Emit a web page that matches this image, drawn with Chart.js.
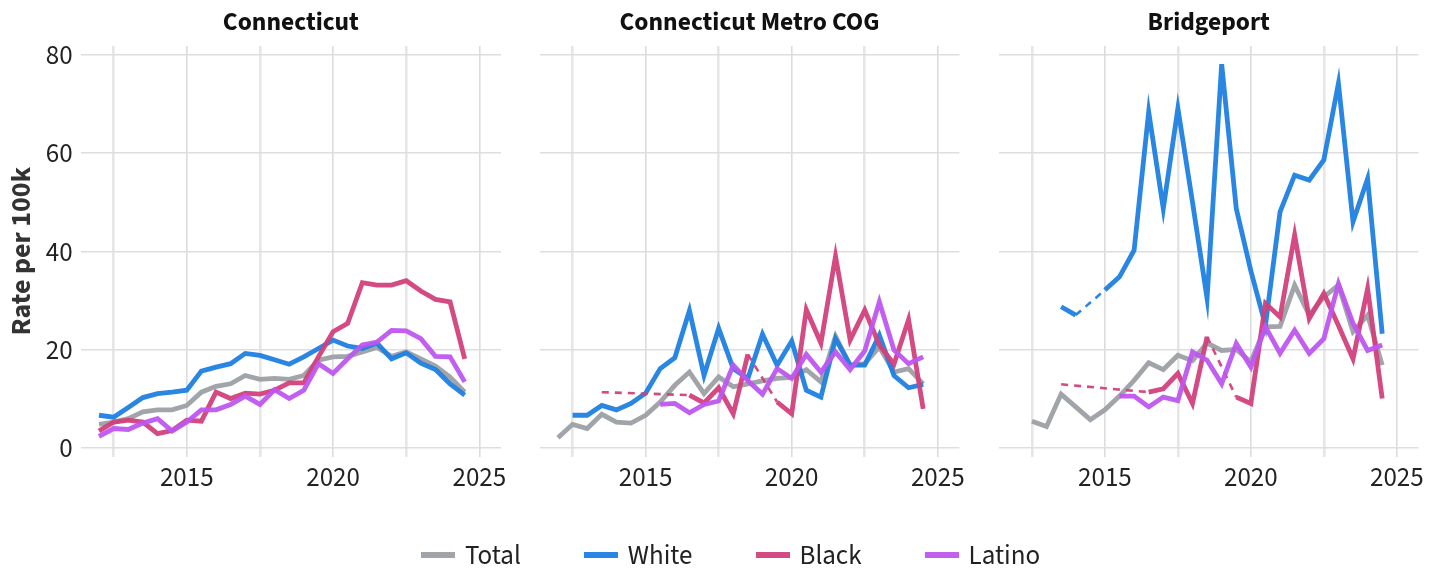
<!DOCTYPE html>
<html><head><meta charset="utf-8">
<script src="https://cdn.jsdelivr.net/npm/chart.js@4.4.0/dist/chart.umd.min.js"></script>
<style>
html,body{margin:0;padding:0;background:#fff;width:1441px;height:574px;overflow:hidden;}
canvas{position:absolute;left:0;top:0;}
#legend{position:absolute;left:0;width:1461px;top:535px;height:40px;display:flex;justify-content:center;align-items:center;gap:63px;font-family:"Source Sans 3","Source Sans Pro",Lato,sans-serif;font-size:27px;color:#222;}
.item{display:flex;align-items:center;gap:10px;}
.sw{width:34px;height:5.5px;display:inline-block;}
</style></head><body>
<canvas id="c0" width="1441" height="574"></canvas>
<canvas id="c1" width="1441" height="574"></canvas>
<canvas id="c2" width="1441" height="574"></canvas>
<div id="legend"></div>
<script>
const years = [2012, 2012.5, 2013, 2013.5, 2014, 2014.5, 2015, 2015.5, 2016, 2016.5, 2017, 2017.5, 2018, 2018.5, 2019, 2019.5, 2020, 2020.5, 2021, 2021.5, 2022, 2022.5, 2023, 2023.5, 2024, 2024.5];
const xTicks = [2012.5, 2015, 2017.5, 2020, 2022.5, 2025];
const xLabels = [2015, 2020, 2025];
const yTicks = [0, 20, 40, 60, 80];
const regions = ['Connecticut', 'Connecticut Metro COG', 'Bridgeport'];
const seriesNames = ['Total', 'White', 'Black', 'Latino'];
const seriesColors = ['rgba(156,160,165,0.95)', 'rgba(30,128,224,0.95)', 'rgba(210,64,124,0.95)', 'rgba(190,86,240,0.95)'];

const ctTotal  = [4.75, 5.2, 5.9, 7.3, 7.7, 7.7, 8.6, 11.3, 12.5, 13.0, 14.7, 13.9, 14.1, 13.9, 14.7, 17.8, 18.5, 18.6, 19.5, 20.4, 18.6, 19.5, 18.1, 16.6, 14.4, 11.3];
const ctWhite  = [6.6, 6.2, 8.2, 10.2, 11.0, 11.3, 11.7, 15.6, 16.4, 17.1, 19.2, 18.8, 17.9, 17.0, 18.5, 20.2, 21.9, 20.7, 20.2, 21.3, 18.1, 19.3, 17.2, 15.9, 13.0, 10.7];
const ctBlack  = [3.4, 5.2, 5.6, 5.2, 2.85, 3.5, 5.6, 5.4, 11.3, 10.0, 11.1, 10.9, 11.7, 13.2, 13.2, 18.5, 23.6, 25.3, 33.6, 33.1, 33.1, 34.0, 31.9, 30.2, 29.7, 18.1];
const ctLatino = [2.3, 3.9, 3.7, 5.0, 5.9, 3.4, 5.2, 7.7, 7.7, 8.8, 10.5, 8.8, 11.8, 10.0, 11.7, 17.1, 15.1, 18.1, 20.9, 21.5, 23.9, 23.8, 22.2, 18.6, 18.5, 13.4];

const metroTotal  = [2.0, 4.75, 3.9, 6.8, 5.2, 5.0, 6.6, 9.3, 12.7, 15.4, 11.0, 14.4, 12.4, 13.0, 13.6, 14.1, 14.3, 15.9, 13.4, 22.7, 16.8, 17.1, 20.5, 15.4, 16.1, 13.0];
const metroWhite  = [null, 6.6, 6.6, 8.6, 7.7, 9.0, 11.1, 16.1, 18.3, 27.9, 14.7, 24.3, 16.1, 14.1, 23.1, 16.8, 21.7, 11.7, 10.3, 22.2, 16.8, 16.8, 22.9, 14.7, 12.2, 12.9];
const metroBlack  = [null, null, null, 11.3, null, null, null, null, null, 10.7, 9.1, 12.2, 6.9, 19.0, null, 9.3, 6.9, 28.1, 21.3, 39.0, 21.9, 28.0, 20.9, 17.0, 26.1, 7.9];
const metroLatino = [null, null, null, null, null, null, null, 8.8, 9.0, 7.1, 8.8, 9.5, 16.8, 13.6, 10.9, 16.1, 14.1, 19.0, 15.4, 19.5, 15.9, 19.7, 29.7, 19.9, 17.1, 18.5];

const bptTotal  = [null, 5.4, 4.3, 10.9, 8.3, 5.7, 7.7, 10.5, 13.7, 17.3, 15.9, 18.8, 17.7, 21.3, 19.8, 20.0, 17.5, 24.6, 24.7, 33.1, 27.0, 30.7, 33.1, 23.6, 27.0, 16.8];
const bptWhite  = [null, null, null, 28.7, 27.0, null, 32.1, 34.8, 40.2, 68.4, 48.7, 69.1, 50.0, 30.4, 78.1, 48.7, 36.0, 24.9, 48.0, 55.5, 54.5, 58.6, 74.2, 46.0, 54.8, 23.2];
const bptBlack  = [null, null, null, 12.9, null, null, null, null, null, 11.3, 12.0, 15.1, 9.0, 22.6, null, 10.3, 9.0, 29.4, 26.6, 43.3, 26.3, 31.4, 24.9, 18.1, 32.4, 10.0];
const bptLatino = [null, null, null, null, null, null, null, 10.5, 10.5, 8.3, 10.3, 9.6, 19.5, 17.8, 13.0, 21.2, 16.4, 24.6, 19.2, 23.9, 19.2, 22.2, 33.4, 25.3, 19.8, 20.9];

const panelSeries = [
  [ctTotal, ctWhite, ctBlack, ctLatino],
  [metroTotal, metroWhite, metroBlack, metroLatino],
  [bptTotal, bptWhite, bptBlack, bptLatino]
];

// ---- layout (pixels) ----
const FONT = '"Source Sans 3","Source Sans Pro",Lato,sans-serif';
const W = 1441, H = 574;
const panels = [
  {left: 80.7, right: 501.0},
  {left: 539.7, right: 959.4},
  {left: 999.1, right: 1418.4}
];
const areaTop = 46, areaBottom = 456.5;
const xAxisH = 40;
const yTitleLeft = 7.5;
const titleSize = 25.5, tickSize = 27, yTitleSize = 28;

const gap = ctx => ctx.p0.skip || ctx.p1.skip;

panels.forEach((p, i) => {
  const first = i === 0;
  const padLeft = first ? yTitleLeft : p.left;
  const datasets = seriesNames.map((name, s) => ({
    label: name,
    data: years.map((yr, k) => ({x: yr, y: panelSeries[i][s][k]})),
    borderColor: seriesColors[s],
    backgroundColor: seriesColors[s],
    borderWidth: 4.8,
    pointRadius: 0,
    tension: 0,
    spanGaps: true,
    fill: false,
    order: 3 - s,
    segment: {
      borderDash: ctx => gap(ctx) ? [7, 6] : undefined,
      borderWidth: ctx => gap(ctx) ? 2.6 : undefined
    }
  }));
  new Chart(document.getElementById('c' + i), {
    type: 'line',
    data: {datasets},
    options: {
      responsive: false,
      animation: false,
      events: [],
      devicePixelRatio: 1,
      layout: {padding: {left: padLeft, right: W - p.right, top: 0, bottom: H - areaBottom - xAxisH}},
      plugins: {
        legend: {display: false},
        tooltip: {enabled: false},
        title: {
          display: true,
          text: regions[i],
          fullSize: false,
          color: '#111',
          font: {family: FONT, size: titleSize, weight: 'bold'},
          padding: {top: 9.5, bottom: areaTop - 9.5 - titleSize * 1.2}
        }
      },
      scales: {
        x: {
          type: 'linear',
          min: 2011.375,
          max: 2025.74,
          afterBuildTicks: a => { a.ticks = xTicks.map(v => ({value: v})); },
          afterFit: a => { a.height = xAxisH; a.paddingLeft = 0; a.paddingRight = 0; },
          ticks: {
            autoSkip: false, maxRotation: 0, minRotation: 0, padding: 7,
            color: '#222', font: {family: FONT, size: tickSize},
            callback: v => xLabels.includes(v) ? String(v) : ''
          },
          grid: {
            drawTicks: false,
            color: ctx => (ctx.tick && xLabels.includes(ctx.tick.value)) ? '#dcdcdc' : '#e6e6e6',
            lineWidth: ctx => (ctx.tick && xLabels.includes(ctx.tick.value)) ? 1.6 : 2.6
          },
          border: {display: false}
        },
        y: {
          type: 'linear',
          min: -1.8,
          max: 81.8,
          afterBuildTicks: a => { a.ticks = yTicks.map(v => ({value: v})); },
          afterFit: a => { a.width = first ? p.left - yTitleLeft : 0; a.paddingTop = 0; a.paddingBottom = 0; },
          ticks: {display: first, padding: 8, labelOffset: 3.5, color: '#222', font: {family: FONT, size: tickSize}},
          title: {
            display: first,
            text: 'Rate per 100k',
            color: '#333',
            padding: {top: 0, bottom: 0},
            font: {family: FONT, size: yTitleSize, weight: 'bold'}
          },
          grid: {drawTicks: false, color: '#dedede', lineWidth: 1.5},
          border: {display: false}
        }
      }
    }
  });
});

// legend (HTML) built from the series arrays
const leg = document.getElementById('legend');
seriesNames.forEach((name, s) => {
  const it = document.createElement('div');
  it.className = 'item';
  const sw = document.createElement('span');
  sw.className = 'sw';
  sw.style.background = seriesColors[s];
  const t = document.createElement('span');
  t.textContent = name;
  it.appendChild(sw); it.appendChild(t);
  leg.appendChild(it);
});
</script>
</body></html>
